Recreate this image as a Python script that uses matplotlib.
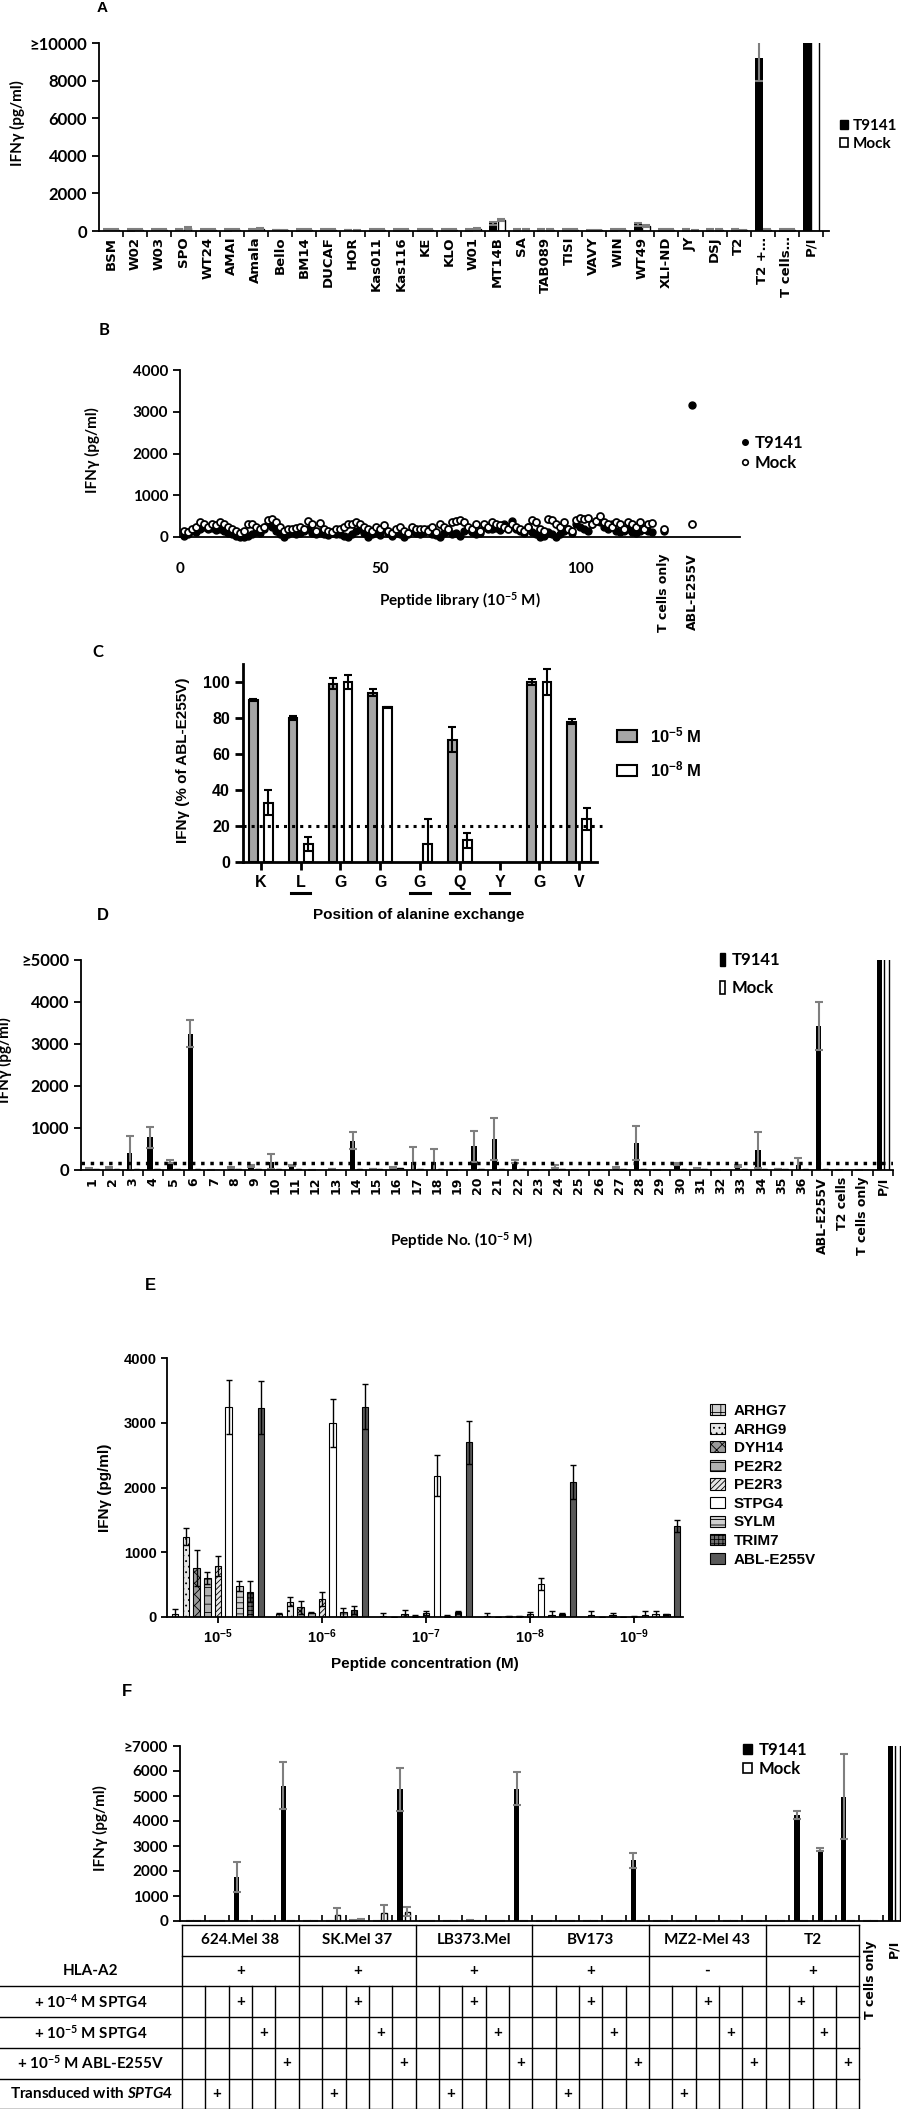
import matplotlib
matplotlib.use('Agg')
import numpy as np
import matplotlib.pyplot as plt
import matplotlib.transforms as mtrans
from matplotlib.patches import Patch
from matplotlib.lines import Line2D

plt.rcParams['font.family'] = ['Lato', 'DejaVu Sans']
plt.rcParams['font.weight'] = 'bold'
plt.rcParams['mathtext.fontset'] = 'custom'
plt.rcParams['mathtext.default'] = 'regular'
plt.rcParams['mathtext.it'] = 'Lato:italic:bold'
plt.rcParams['mathtext.rm'] = 'Lato:bold'
plt.rcParams['hatch.linewidth'] = 0.6
plt.rcParams['axes.linewidth'] = 1.3

ARIAL = ['Liberation Sans', 'DejaVu Sans']
WIDE = ['DejaVu Sans']
CAL = ['Lato', 'DejaVu Sans']
GREY_ERR = '#7f7f7f'

# ---------------- data ----------------
# A: cell lines
A_labels = ['BSM', 'W02', 'W03', 'SPO', 'WT24', 'AMAI', 'Amala', 'Bello', 'BM14', 'DUCAF',
            'HOR', 'Kas011', 'Kas116', 'KE', 'KLO', 'W01', 'MT14B', 'SA', 'TAB089', 'TISI',
            'VAVY', 'WIN', 'WT49', 'XLI-ND', 'JY', 'DSJ', 'T2', 'T2 +…', 'T cells…', 'P/I']
A_t9141 = [60, 50, 60, 80, 50, 50, 60, 50, 50, 50, 50, 50, 50, 50, 50, 50, 400, 50, 50, 50,
           20, 50, 350, 50, 50, 50, 50, 9200, 50, 12000]
A_t_err = [30, 30, 30, 40, 30, 30, 30, 20, 30, 30, 20, 30, 30, 30, 30, 30, 80, 30, 30, 30,
           10, 30, 60, 30, 30, 30, 30, 1200, 30, 0]
A_mock = [60, 60, 60, 150, 50, 60, 100, 40, 50, 50, 40, 50, 50, 50, 50, 100, 600, 50, 50, 50,
          40, 60, 280, 50, 30, 50, 40, 50, 50, 12000]
A_m_err = [30, 30, 30, 50, 30, 30, 40, 20, 30, 30, 20, 30, 30, 30, 30, 40, 60, 30, 30, 30,
           20, 30, 50, 30, 20, 30, 20, 30, 30, 0]

# B: peptide library screen (peptides 1..118)
B_t9141 = [20, 80, 150, 120, 200, 250, 180, 220, 160, 200,
           140, 90, 60, 20, 0, 10, 30, 60, 120, 90,
           200, 300, 250, 150, 60, 0, 80, 120, 60, 100,
           150, 200, 90, 60, 120, 80, 40, 100, 60, 80,
           20, 0, 60, 150, 200, 100, 0, 60, 120, 40,
           180, 90, 30, 120, 60, 0, 80, 150, 100, 60,
           120, 200, 80, 40, 0, 90, 150, 60, 100, 30,
           150, 200, 120, 60, 100, 250, 180, 200, 220, 160,
           300, 250, 380, 200, 150, 100, 250, 120, 60, 0,
           30, 120, 60, 0, 80, 150, 200, 100, 300, 250,
           200, 150, 300, 380, 350, 250, 200, 300, 150, 120,
           150, 200, 120, 100, 150, 200, 150, 120]
B_mock = [150, 120, 200, 250, 350, 320, 250, 300, 280, 350,
          300, 250, 200, 150, 100, 150, 300, 320, 250, 200,
          250, 400, 420, 350, 250, 150, 200, 180, 220, 250,
          200, 380, 300, 150, 330, 200, 150, 120, 180, 200,
          250, 300, 320, 350, 300, 250, 200, 150, 250, 200,
          280, 150, 100, 200, 250, 150, 100, 250, 200, 180,
          200, 150, 250, 120, 300, 250, 200, 350, 380, 400,
          350, 250, 200, 300, 150, 300, 250, 350, 300, 280,
          250, 200, 300, 250, 200, 150, 250, 400, 350, 200,
          150, 420, 400, 300, 250, 350, 200, 150, 400, 450,
          420, 450, 300, 380, 500, 350, 300, 250, 350, 300,
          200, 350, 300, 250, 350, 200, 300, 330]
B_ctrl_labels = ['T cells only', 'ABL-E255V']
B_ctrl_x = [121, 128]
B_ctrl_t9141 = [150, 3150]
B_ctrl_mock = [200, 300]

# C: alanine exchange
C_labels = ['K', 'L', 'G', 'G', 'G', 'Q', 'Y', 'G', 'V']
C_underlined = [False, True, False, False, True, True, True, False, False]
C_hi = [90, 80, 99, 94, np.nan, 68, np.nan, 100, 78]
C_hi_err = [0.5, 1, 3, 2, 0, 7, 0, 1.5, 1.5]
C_lo = [33, 10, 100, 86, 10, 12, np.nan, 100, 24]
C_lo_err = [7, 4, 4, 0.3, 14, 4, 0, 7, 6]

# D: selected peptides
D_labels = [str(i) for i in range(1, 37)] + ['ABL-E255V', 'T2 cells', 'T cells only', 'P/I']
D_t9141 = [30, 50, 400, 780, 200, 3250, 0, 50, 100, 200, 100, 0, 30, 700, 30, 50, 200, 200, 0, 570,
           740, 200, 0, 80, 0, 0, 50, 650, 0, 150, 40, 0, 100, 480, 30, 120, 3430, 0, 0, 8000]
D_t_err = [10, 20, 420, 250, 30, 330, 0, 10, 30, 180, 10, 0, 5, 200, 5, 10, 350, 310, 0, 370,
           510, 30, 0, 30, 0, 0, 10, 400, 0, 20, 10, 0, 20, 430, 5, 160, 570, 0, 0, 0]
D_mock = [20, 30, 30, 30, 30, 20, 0, 30, 30, 30, 20, 0, 0, 20, 20, 40, 20, 20, 0, 20,
          20, 20, 0, 20, 0, 0, 30, 20, 0, 20, 20, 0, 20, 20, 20, 30, 30, 0, 0, 8000]
D_cutoff = 170

# E: titration
E_conc = ['10$^{-5}$', '10$^{-6}$', '10$^{-7}$', '10$^{-8}$', '10$^{-9}$']
E_peptides = ['ARHG7', 'ARHG9', 'DYH14', 'PE2R2', 'PE2R3', 'STPG4', 'SYLM', 'TRIM7', 'ABL-E255V']
E_values = [[50, 50, 15, 20, 35],
            [1240, 235, 0, 0, 0],
            [760, 150, 40, 10, 25],
            [600, 65, 15, 10, 0],
            [785, 280, 60, 40, 5],
            [3240, 2990, 2185, 510, 25],
            [480, 70, 15, 35, 40],
            [390, 105, 80, 40, 40],
            [3230, 3250, 2700, 2080, 1405]]
E_errors = [[70, 10, 40, 40, 65],
            [135, 70, 0, 0, 0],
            [280, 100, 70, 10, 30],
            [90, 10, 10, 10, 0],
            [150, 110, 35, 40, 5],
            [420, 370, 320, 95, 60],
            [80, 65, 10, 65, 60],
            [165, 60, 20, 15, 10],
            [410, 350, 330, 260, 90]]
E_face = ['#cfcfcf', '#e6e6e6', '#9a9a9a', '#b0b0b0', '#e6e6e6', 'white', '#cfcfcf', '#6e6e6e', '#595959']
E_hatch = ['++', '...', 'xxx', '--', '//////', None, '---', '++++', None]

# F: recognition of tumour lines
F_lines = ['624.Mel 38', 'SK.Mel 37', 'LB373.Mel', 'BV173', 'MZ2-Mel 43', 'T2']
F_hla = ['+', '+', '+', '+', '-', '+']
F_conditions = [['', 'trans', '1e-4', '1e-5', 'abl']] * 5 + [['', '1e-4', '1e-5', 'abl']]
F_row_keys = ['1e-4', '1e-5', 'abl', 'trans']
F_row_labels = ['+ 10$^{-4}$ M SPTG4', '+ 10$^{-5}$ M SPTG4', '+ 10$^{-5}$ M ABL-E255V',
                'Transduced with $\\mathit{SPTG4}$']
F_extra = ['T cells only', 'P/I']
F_t9141 = [0, 0, 1760, 0, 5420, 0, 0, 30, 0, 5280, 0, 0, 30, 0, 5300, 0, 0, 0, 0, 2430,
           0, 0, 0, 0, 0, 0, 4240, 2860, 4980, 0, 8000]
F_t_err = [0, 0, 600, 0, 950, 0, 0, 20, 0, 860, 0, 0, 20, 0, 650, 0, 0, 0, 0, 300,
           0, 0, 0, 0, 0, 0, 150, 50, 1700, 0, 0]
F_mock = [0, 0, 0, 0, 0, 0, 250, 60, 320, 370, 0, 0, 0, 0, 0, 0, 0, 0, 0, 0,
          0, 0, 0, 0, 0, 0, 0, 0, 0, 0, 8000]
F_m_err = [0, 0, 0, 0, 0, 0, 270, 30, 320, 180, 0, 0, 0, 0, 0, 0, 0, 0, 0, 0,
           0, 0, 0, 0, 0, 0, 0, 0, 0, 0, 0]

# ---------------- figure ----------------
W, H = 901, 2109
fig = plt.figure(figsize=(W / 100, H / 100), dpi=100)


def add_ax(l, t, r, b):
    return fig.add_axes([l / W, 1 - b / H, (r - l) / W, (b - t) / H])


def letter(x, y, s, family=ARIAL, size=11):
    fig.text(x / W, 1 - y / H, s, ha='center', va='center', family=family,
             weight='bold', size=size)


def px_legend(handles, labels, x, y, size, family, **kw):
    fig.legend(handles, labels, loc='upper left', bbox_to_anchor=(x / W, 1 - y / H),
               frameon=False, borderpad=0, borderaxespad=0,
               prop=dict(family=family, weight='bold', size=size), **kw)


def clean(ax):
    ax.spines['top'].set_visible(False)
    ax.spines['right'].set_visible(False)


def style_ticks(ax, labels, family, size):
    for t in labels:
        t.set_family(family)
        t.set_fontweight('bold')
        t.set_fontsize(size)


grey_err = dict(ecolor=GREY_ERR, elinewidth=1.5, capsize=3, capthick=1.5)

# ---------- A ----------
letter(102, 8, 'A')
ax = add_ax(99, 43, 829, 231)
clean(ax)
x = np.arange(len(A_labels))
ax.bar(x - 0.17, A_t9141, 0.32, color='black', yerr=A_t_err, error_kw=grey_err)
ax.bar(x + 0.17, A_mock, 0.32, color='white', edgecolor='black', linewidth=1,
       yerr=A_m_err, error_kw=grey_err)
ax.set_xlim(-0.5, 29.74)
ax.set_ylim(0, 10000)
ax.set_yticks(range(0, 10001, 2000))
ax.set_yticklabels(['0', '2000', '4000', '6000', '8000', '≥10000'])
style_ticks(ax, ax.get_yticklabels(), CAL, 12)
ax.set_xticks(x)
ax.set_xticklabels(A_labels, rotation=90)
style_ticks(ax, ax.get_xticklabels(), WIDE, 9.5)
ax.set_xticks(x + 0.5, minor=True)
ax.tick_params(axis='x', which='major', length=0, pad=4)
ax.tick_params(axis='x', which='minor', length=4, width=1.2)
ax.tick_params(axis='y', length=5, width=1.3)
ax.set_ylabel('IFNγ (pg/ml)', family=CAL, weight='bold', size=11)
ax.yaxis.set_label_coords(-0.101, 0.574)
px_legend([Patch(fc='black', ec='black'), Patch(fc='white', ec='black', lw=1.2)],
          ['T9141', 'Mock'], 840, 119, 11, CAL, handlelength=0.55, handleheight=0.55,
          handletextpad=0.3, labelspacing=0.25)

# ---------- B ----------
letter(104, 330, 'B', family=CAL, size=12)
ax = add_ax(180, 370, 740, 537)
clean(ax)
bx = np.arange(1, len(B_t9141) + 1)
ax.plot(bx, B_t9141, 'o', ms=5, color='black', clip_on=False)
ax.plot(bx, B_mock, 'o', ms=5, mfc='white', mec='black', mew=1.3, clip_on=False)
ax.plot(B_ctrl_x, B_ctrl_t9141, 'o', ms=5, color='black', clip_on=False)
ax.plot(B_ctrl_x, B_ctrl_mock, 'o', ms=5, mfc='white', mec='black', mew=1.3, clip_on=False)
ax.set_xlim(0, 140)
ax.set_ylim(0, 4000)
ax.set_yticks(range(0, 4001, 1000))
ax.set_xticks([0, 50, 100])
style_ticks(ax, ax.get_yticklabels() + ax.get_xticklabels(), CAL, 11)
ax.tick_params(axis='x', length=0, pad=18)
ax.tick_params(axis='y', length=5, width=1.3)
btr = mtrans.blended_transform_factory(ax.transData, ax.transAxes)
for lab, xc in zip(B_ctrl_labels, B_ctrl_x):
    ax.text(xc, -0.096, lab, transform=btr, rotation=90, ha='center', va='top',
            family=WIDE, weight='bold', size=9)
ax.set_xlabel('Peptide library (10$^{-5}$ M)', family=CAL, weight='bold', size=11)
ax.xaxis.set_label_coords(0.5, -0.317)
ax.set_ylabel('IFNγ (pg/ml)', family=CAL, weight='bold', size=11)
ax.yaxis.set_label_coords(-0.143, 0.52)
px_legend([Line2D([], [], ls='', marker='o', ms=4, color='black'),
           Line2D([], [], ls='', marker='o', ms=4, mfc='white', mec='black', mew=1.2)],
          ['T9141', 'Mock'], 740, 435, 12, CAL, handlelength=0.6,
          handletextpad=0.3, labelspacing=0.25)

# ---------- C ----------
letter(98, 652, 'C', family=CAL, size=12)
ax = add_ax(243, 664, 597, 862)
clean(ax)
for s in ('left', 'bottom'):
    ax.spines[s].set_linewidth(2)
x = np.arange(len(C_labels))
c_err = dict(ecolor='black', elinewidth=1.5, capsize=3, capthick=1.5)
ax.bar(x - 0.19, C_hi, 0.22, color='#a6a6a6', edgecolor='black', linewidth=1.5,
       yerr=C_hi_err, error_kw=c_err)
ax.bar(x + 0.19, C_lo, 0.22, color='white', edgecolor='black', linewidth=1.5,
       yerr=C_lo_err, error_kw=c_err)
ax.set_xlim(-0.45, 8.45)
ax.set_ylim(0, 110)
ax.set_yticks(range(0, 101, 20))
ax.set_xticks(x)
ax.set_xticklabels(C_labels)
style_ticks(ax, ax.get_yticklabels() + ax.get_xticklabels(), ARIAL, 11.5)
ax.tick_params(length=6, width=2)
ax.plot([-0.45, 8.57], [20, 20], ':', color='black', lw=2.2, clip_on=False)
ctr = mtrans.blended_transform_factory(ax.transData, ax.transAxes)
for i, u in enumerate(C_underlined):
    if u:
        ax.plot([i - 0.24, i + 0.24], [-0.157, -0.157], color='black', lw=2.2,
                transform=ctr, clip_on=False)
ax.set_ylabel('IFNγ (% of ABL-E255V)', family=ARIAL, weight='bold', size=11)
ax.yaxis.set_label_coords(-0.15, 0.515)
ax.set_xlabel('Position of alanine exchange', family=ARIAL, weight='bold', size=11)
ax.xaxis.set_label_coords(0.497, -0.232)
px_legend([Patch(fc='#a6a6a6', ec='black', lw=1.5), Patch(fc='white', ec='black', lw=1.5)],
          ['10$^{-5}$ M', '10$^{-8}$ M'], 617, 725, 12, ARIAL, handlelength=1.2,
          handleheight=0.66, handletextpad=0.8, labelspacing=0.85)

# ---------- D ----------
letter(103, 916, 'D', size=12)
ax = add_ax(81, 960, 893, 1170)
clean(ax)
x = np.arange(len(D_labels))
ax.bar(x - 0.17, D_t9141, 0.27, color='black', yerr=D_t_err, error_kw=grey_err)
ax.bar(x + 0.17, D_mock, 0.27, color='white', edgecolor='black', linewidth=1)
ax.axhline(D_cutoff, ls=':', lw=2.5, color='black')
ax.set_xlim(-0.57, 39.43)
ax.set_ylim(0, 5000)
ax.set_yticks(range(0, 5001, 1000))
ax.set_yticklabels(['0', '1000', '2000', '3000', '4000', '≥5000'])
style_ticks(ax, ax.get_yticklabels(), CAL, 12)
ax.set_xticks(x)
ax.set_xticklabels(D_labels, rotation=90)
style_ticks(ax, ax.get_xticklabels(), WIDE, 9)
ax.set_xticks(x + 0.5, minor=True)
ax.tick_params(axis='x', which='major', length=0, pad=5)
ax.tick_params(axis='x', which='minor', length=4, width=1.2)
ax.tick_params(axis='y', length=5, width=1.3)
ax.set_ylabel('IFNγ (pg/ml)', family=CAL, weight='bold', size=11)
ax.yaxis.set_label_coords(-0.085, 0.524)
ax.set_xlabel('Peptide No. (10$^{-5}$ M)', family=CAL, weight='bold', size=11)
ax.xaxis.set_label_coords(0.469, -0.286)
px_legend([Patch(fc='black', ec='black'), Patch(fc='white', ec='black', lw=1.2)],
          ['T9141', 'Mock'], 720, 952, 12, CAL, handlelength=0.3, handleheight=0.8,
          handletextpad=0.4, labelspacing=0.74)

# ---------- E ----------
letter(150, 1285, 'E', size=12)
ax = add_ax(167, 1358, 683, 1617)
clean(ax)
g = np.arange(len(E_conc))
e_err = dict(ecolor='black', elinewidth=1, capsize=2, capthick=1)
handles = []
for k, pep in enumerate(E_peptides):
    ax.bar(g + (k - 4) * 0.103, E_values[k], 0.0625, color=E_face[k], hatch=E_hatch[k],
           edgecolor='black', linewidth=0.8, yerr=E_errors[k], error_kw=e_err)
    handles.append(Patch(fc=E_face[k], ec='black', hatch=E_hatch[k], lw=0.8))
ax.set_xlim(-0.49, 4.47)
ax.set_ylim(0, 4000)
ax.set_yticks(range(0, 4001, 1000))
ax.set_xticks(g)
ax.set_xticklabels(E_conc)
style_ticks(ax, ax.get_yticklabels() + ax.get_xticklabels(), ARIAL, 10.5)
ax.tick_params(length=4, width=1.3)
ax.set_ylabel('IFNγ (pg/ml)', family=ARIAL, weight='bold', size=11)
ax.yaxis.set_label_coords(-0.107, 0.498)
ax.set_xlabel('Peptide concentration (M)', family=ARIAL, weight='bold', size=11)
ax.xaxis.set_label_coords(0.5, -0.154)
px_legend(handles, E_peptides, 710, 1404, 11, ARIAL, handlelength=1.0,
          handleheight=0.75, handletextpad=0.55, labelspacing=0.3)

# ---------- F ----------
letter(127, 1692, 'F', size=12)
ax = add_ax(180, 1746, 901, 1921)
clean(ax)
x = np.arange(len(F_t9141))
ax.bar(x - 0.17, F_t9141, 0.23, color='black', yerr=F_t_err, error_kw=grey_err)
ax.bar(x + 0.15, F_mock, 0.23, color='white', edgecolor='black', linewidth=1,
       yerr=F_m_err, error_kw=grey_err)
ax.set_xlim(-0.59, 30.29)
ax.set_ylim(0, 7000)
ax.set_yticks(range(0, 7001, 1000))
ax.set_yticklabels([str(v) for v in range(0, 7000, 1000)] + ['≥7000'])
style_ticks(ax, ax.get_yticklabels(), CAL, 11)
ax.set_xticks([])
ax.set_xticks(x[:-1] + 0.5, minor=True)
ax.tick_params(axis='x', which='minor', direction='in', length=4, width=1.2)
ax.tick_params(axis='y', length=5, width=1.3)
ax.set_ylabel('IFNγ (pg/ml)', family=CAL, weight='bold', size=11)
ax.yaxis.set_label_coords(-0.1, 0.53)
px_legend([Patch(fc='black', ec='black'), Patch(fc='white', ec='black', lw=1.2)],
          ['T9141', 'Mock'], 743, 1742, 12, CAL, handlelength=0.55, handleheight=0.55,
          handletextpad=0.4, labelspacing=0.15)

# table below F, sharing F's column positions
tab = add_ax(180, 1921, 901, 2109)
tab.set_xlim(ax.get_xlim())
tab.set_ylim(5.99, -0.13)
tab.axis('off')
lk = dict(color='black', lw=1, clip_on=False)
tk = dict(ha='center', va='center', family=CAL, weight='bold', size=11, clip_on=False)
ncols = sum(len(c) for c in F_conditions)
left_edge = -0.5
right_edge = ncols - 0.5
row_x = -4.4
far_left = ax.get_xlim()[0] - 180 / 23.35
tab.plot([left_edge, right_edge], [0, 0], **lk)
tab.plot([left_edge, right_edge], [1, 1], **lk)
for r in range(2, 7):
    tab.plot([far_left, right_edge], [r, r], **lk)
tab.plot([left_edge, left_edge], [0, 6.2], **lk)
start = 0
for name, hla, conds in zip(F_lines, F_hla, F_conditions):
    n = len(conds)
    mid = start + (n - 1) / 2
    tab.text(mid, 0.5, name, **tk)
    tab.text(mid, 1.5, hla, **tk)
    tab.plot([start + n - 0.5] * 2, [0, 6.2], **lk)
    for j, cond in enumerate(conds):
        col = start + j
        if j < n - 1:
            tab.plot([col + 0.5] * 2, [2, 6.2], **lk)
        if cond in F_row_keys:
            tab.text(col, 2.5 + F_row_keys.index(cond), '+', **tk)
    start += n
tab.text(row_x, 1.5, 'HLA-A2', **tk)
for r, lab in enumerate(F_row_labels):
    tab.text(row_x, 2.5 + r, lab, **tk)
for k, lab in enumerate(F_extra):
    tab.text(ncols + k, 0.49, lab, rotation=90, ha='center', va='top', family=WIDE,
             weight='bold', size=9, clip_on=False)

fig.savefig('out.png', dpi=100)
